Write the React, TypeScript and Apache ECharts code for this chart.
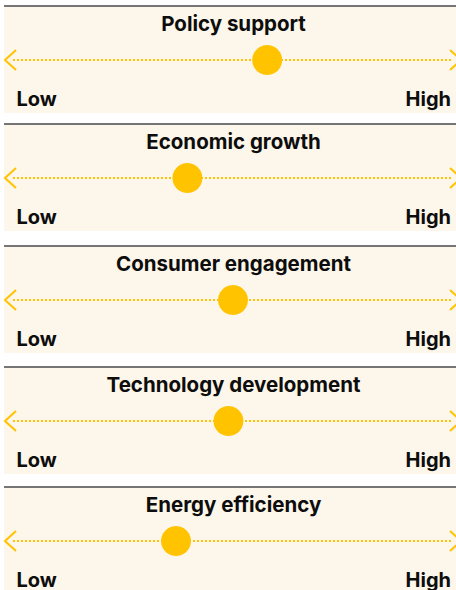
import React, { useEffect, useRef } from "react";
import * as echarts from "echarts";

const categories = [
  "Policy support",
  "Economic growth",
  "Consumer engagement",
  "Technology development",
  "Energy efficiency",
];
const values = [57.5, 40, 50, 49, 37.5];
const scaleMin = 0;
const scaleMax = 100;
const lowLabel = "Low";
const highLabel = "High";

const W = 456;
const H = 590;
const panelTops = [6, 124, 246, 367, 487];
const YELLOW = "#FFC300";
const CREAM = "#FDF6EA";
const FONT = 'Inter, "Liberation Sans", Arial, sans-serif';

export default function App() {
  const ref = useRef<HTMLDivElement>(null);
  useEffect(() => {
    if (!ref.current) return;
    const chart = echarts.init(ref.current, null, { renderer: "svg" });
    const grids: any[] = [];
    const xAxes: any[] = [];
    const yAxes: any[] = [];
    const series: any[] = [];
    const graphics: any[] = [];

    categories.forEach((cat, i) => {
      const top = panelTops[i];
      const bottom = i < categories.length - 1 ? top + 107 : H;
      graphics.push({
        type: "rect",
        shape: { x: 4, y: top, width: W - 4, height: bottom - top },
        style: { fill: CREAM },
        z: -10,
        silent: true,
      });
      graphics.push({
        type: "line",
        shape: { x1: 4, y1: top, x2: W, y2: top },
        style: { stroke: "#757575", lineWidth: 2 },
        z: -5,
        silent: true,
      });
      graphics.push({
        type: "text",
        x: 233.5,
        y: top + 17.5,
        style: {
          text: cat,
          font: `bold 20.5px ${FONT}`,
          fill: "#0d0d0d",
          textAlign: "center",
          textVerticalAlign: "middle",
        },
      });
      graphics.push({
        type: "text",
        x: 16.5,
        y: top + 92.5,
        style: {
          text: lowLabel,
          font: `bold 20px ${FONT}`,
          fill: "#0d0d0d",
          textAlign: "left",
          textVerticalAlign: "middle",
        },
      });
      graphics.push({
        type: "text",
        x: 451,
        y: top + 92.5,
        style: {
          text: highLabel,
          font: `bold 20px ${FONT}`,
          fill: "#0d0d0d",
          textAlign: "right",
          textVerticalAlign: "middle",
        },
      });

      grids.push({
        left: 5,
        width: 456,
        top: top + 54 - 10,
        height: 20,
        outerBoundsMode: "none",
        containLabel: false,
      });
      xAxes.push({
        gridIndex: i,
        type: "value",
        min: scaleMin,
        max: scaleMax,
        show: false,
      });
      yAxes.push({ gridIndex: i, type: "value", min: -1, max: 1, show: false });

      series.push({
        type: "custom",
        xAxisIndex: i,
        yAxisIndex: i,
        clip: false,
        silent: true,
        z: 1,
        data: [[scaleMin, scaleMax]],
        renderItem: (params: any, api: any) => {
          const p0 = api.coord([api.value(0), 0]);
          const p1 = api.coord([api.value(1), 0]);
          const y = p0[1];
          const stroke = { stroke: YELLOW, lineWidth: 2, fill: "none" };
          return {
            type: "group",
            children: [
              {
                type: "line",
                shape: { x1: p0[0] + 8, y1: y, x2: p1[0] - 8, y2: y },
                style: { stroke: YELLOW, lineWidth: 2, lineDash: [2, 2] },
              },
              {
                type: "polyline",
                shape: {
                  points: [
                    [p0[0] + 11, y - 10],
                    [p0[0], y],
                    [p0[0] + 11, y + 10],
                  ],
                },
                style: stroke,
              },
              {
                type: "polyline",
                shape: {
                  points: [
                    [p1[0] - 11, y - 10],
                    [p1[0], y],
                    [p1[0] - 11, y + 10],
                  ],
                },
                style: stroke,
              },
            ],
          };
        },
      });
      series.push({
        type: "scatter",
        xAxisIndex: i,
        yAxisIndex: i,
        clip: false,
        z: 3,
        symbolSize: 30,
        itemStyle: { color: YELLOW, opacity: 1 },
        data: [[values[i], 0]],
      });
    });

    chart.setOption({
      animation: false,
      backgroundColor: "#ffffff",
      grid: grids,
      xAxis: xAxes,
      yAxis: yAxes,
      series,
      graphic: graphics,
    });
    return () => chart.dispose();
  }, []);
  return (
    <div
      ref={ref}
      style={{ position: "absolute", left: 0, top: 0, width: W, height: H }}
    />
  );
}
